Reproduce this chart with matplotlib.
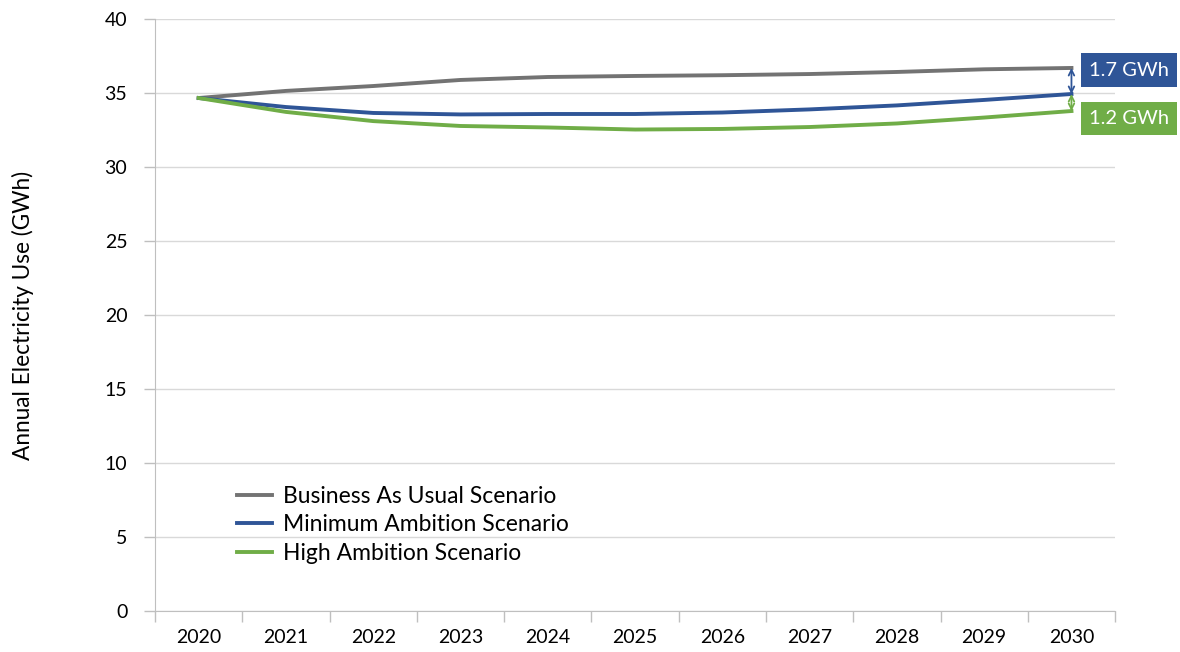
import matplotlib.pyplot as plt

plt.rcParams["font.family"] = ["Lato", "DejaVu Sans"]

# Chart data
years = ["2020", "2021", "2022", "2023", "2024", "2025", "2026", "2027", "2028", "2029", "2030"]
bau = [34.66, 35.14, 35.47, 35.88, 36.08, 36.15, 36.20, 36.28, 36.42, 36.60, 36.69]
minimum = [34.66, 34.05, 33.65, 33.55, 33.58, 33.58, 33.68, 33.89, 34.16, 34.53, 34.93]
high = [34.66, 33.72, 33.10, 32.77, 32.67, 32.53, 32.57, 32.70, 32.94, 33.34, 33.78]
gap_labels = ["1.7 GWh", "1.2 GWh"]

GRAY = "#737373"
BLUE = "#2F5597"
GREEN = "#70AD47"

fig = plt.figure(figsize=(11.8, 6.52), dpi=100)
ax = fig.add_axes([0.1314, 0.0629, 0.8136, 0.908])

x = range(len(years))
ax.plot(x, bau, color=GRAY, lw=2.8, label="Business As Usual Scenario")
ax.plot(x, minimum, color=BLUE, lw=2.8, label="Minimum Ambition Scenario")
ax.plot(x, high, color=GREEN, lw=2.8, label="High Ambition Scenario")

ax.set_xlim(-0.5, len(years) - 0.5)
ax.set_ylim(0, 40)
ax.set_yticks(range(0, 41, 5))
ax.set_xticks(list(x))
ax.set_xticklabels(years)
ax.set_xticks([i - 0.5 for i in range(len(years) + 1)], minor=True)
ax.tick_params(axis="x", which="major", length=0, pad=13, labelsize=14)
ax.tick_params(axis="x", which="minor", length=8, color="#BFBFBF", width=1)
ax.tick_params(axis="y", length=8, color="#BFBFBF", width=1, pad=12, labelsize=14)
ax.yaxis.grid(True, color="#D9D9D9", lw=1)
ax.set_axisbelow(True)
for side in ["top", "right"]:
    ax.spines[side].set_visible(False)
for side in ["left", "bottom"]:
    ax.spines[side].set_color("#BFBFBF")
ax.set_ylabel("Annual Electricity Use (GWh)", fontsize=16.3)
ax.yaxis.set_label_coords(-0.126, 0.5)

# gap arrows at the last year
last = len(years) - 1
ax.annotate("", xy=(last, minimum[-1]), xytext=(last, bau[-1]),
            arrowprops=dict(arrowstyle="<->", color=BLUE, lw=1.3, shrinkA=0, shrinkB=0))
ax.annotate("", xy=(last, high[-1]), xytext=(last, minimum[-1]),
            arrowprops=dict(arrowstyle="<->", color=GREEN, lw=1.3, shrinkA=0, shrinkB=0))

ax.text(10.66, 36.55, gap_labels[0], ha="center", va="center", fontsize=14.5, color="white",
        clip_on=False, bbox=dict(boxstyle="square,pad=0.4", fc=BLUE, ec="none"))
ax.text(10.66, 33.28, gap_labels[1], ha="center", va="center", fontsize=14.5, color="white",
        clip_on=False, bbox=dict(boxstyle="square,pad=0.4", fc=GREEN, ec="none"))

ax.legend(loc="upper left", bbox_to_anchor=(0.0855, 0.211), frameon=False, fontsize=16.5,
          handlelength=1.5, handletextpad=0.5, labelspacing=0.32, borderpad=0, borderaxespad=0)

fig.savefig("out.png", dpi=100)
